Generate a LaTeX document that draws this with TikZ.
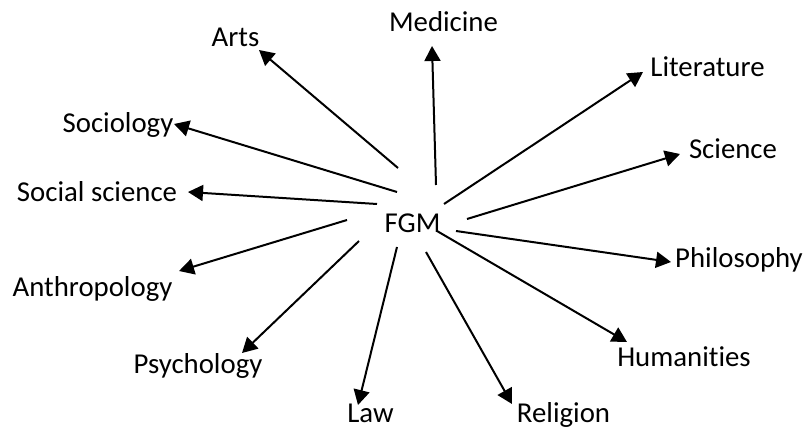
\documentclass[tikz,border=0pt]{standalone}
\usepackage{fontspec}
\setmainfont{Carlito}[Ligatures=NoCommon]
\usetikzlibrary{arrows.meta}
\begin{document}
\begin{tikzpicture}[x=0.5pt,y=-0.5pt,
  lbl/.style={inner sep=0pt,anchor=base,font=\fontsize{14.4pt}{16pt}\selectfont},
  conn/.style={line width=1pt,-{Triangle[length=7.5pt,width=8pt]}}]
\useasboundingbox (0,0) rectangle (807,427);
% labels
\node[lbl] (fgm) at (412.5,232) {FGM};
\node[lbl] (arts) at (235.5,47) {Arts};
\node[lbl] (med) at (443.5,32) {Medicine};
\node[lbl] (lit) at (707.5,77) {Literature};
\node[lbl] (sci) at (733,159) {Science};
\node[lbl] (phil) at (739,267) {Philosophy};
\node[lbl] (hum) at (684,366) {Humanities};
\node[lbl] (rel) at (563.5,422) {Religion};
\node[lbl] (law) at (370.5,422) {Law};
\node[lbl] (psy) at (198,373) {Psychology};
\node[lbl] (anth) at (92.5,296) {Anthropology};
\node[lbl] (socsci) at (97,202) {Social science};
\node[lbl] (soc) at (118,133) {Sociology};
% tails near FGM
\coordinate (t-arts) at (398,168);
\coordinate (t-med) at (436,185);
\coordinate (t-lit) at (444,204);
\coordinate (t-sci) at (467,219);
\coordinate (t-phil) at (456,231);
\coordinate (t-hum) at (437,231);
\coordinate (t-rel) at (426,252);
\coordinate (t-law) at (397,247);
\coordinate (t-psy) at (359,241);
\coordinate (t-anth) at (347,220);
\coordinate (t-socsci) at (377,204);
\coordinate (t-soc) at (397,192);
% tips near labels
\coordinate (h-arts) at (259,50);
\coordinate (h-med) at (432,46);
\coordinate (h-lit) at (643,72);
\coordinate (h-sci) at (680,154);
\coordinate (h-phil) at (671,262);
\coordinate (h-hum) at (627,342);
\coordinate (h-rel) at (512,404);
\coordinate (h-law) at (358,405);
\coordinate (h-psy) at (242,353);
\coordinate (h-anth) at (179,271);
\coordinate (h-socsci) at (188,192);
\coordinate (h-soc) at (174,124);
\foreach \n in {arts,med,lit,sci,phil,hum,rel,law,psy,anth,socsci,soc}
  \draw[conn] (t-\n) -- (h-\n);
\end{tikzpicture}
\end{document}
